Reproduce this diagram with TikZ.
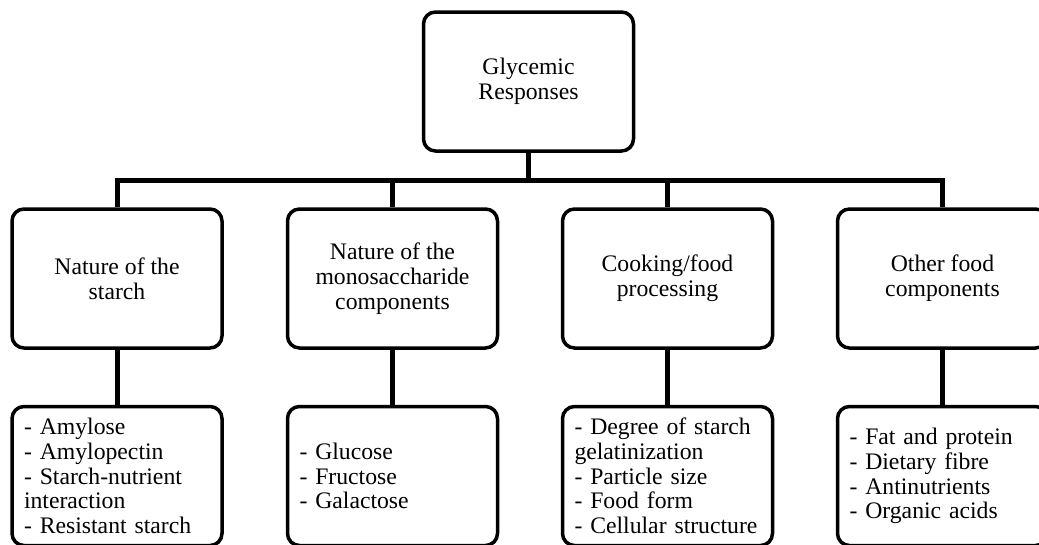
\documentclass[tikz,border=0pt]{standalone}
\usepackage{fontspec}
\setmainfont{Liberation Serif}
\tikzset{
	box/.style={draw, line width=3.5pt, rounded corners=12pt, minimum width=210pt,
		minimum height=139pt, font=\fontsize{23.7}{24.7}\selectfont},
	head/.style={box, align=center},
	list/.style={box, align=left, text width=186pt, inner xsep=12pt},
	wire/.style={line width=5pt}
}

\begin{document}
\begin{tikzpicture}[x=1pt, y=-1pt]
	\clip (0,0) rectangle (1039,544);
	\coordinate (bus) at (0,180);

	\node[head] (top) at (528.5,81.5) {Glycemic\\Responses};

	\node[head] (b1) at (117,278.5) {Nature of the\\starch};
	\node[head] (b2) at (392.5,278.5) {Nature of the\\monosaccharide\\components};
	\node[head] (b3) at (667.5,278.5) {Cooking/food\\processing};
	\node[head] (b4) at (942.5,278.5) {Other food\\components};

	\node[list] (l1) at (117,476) {- Amylose\\- Amylopectin\\- Starch-nutrient\\interaction\\- Resistant starch};
	\node[list] (l2) at (392.5,476) {- Glucose\\- Fructose\\- Galactose};
	\node[list] (l3) at (667.5,476) {- Degree of starch\\gelatinization\\- Particle size\\- Food form\\- Cellular structure};
	\node[list] (l4) at (942.5,476) {- Fat and protein\\- Dietary fibre\\- Antinutrients\\- Organic acids};

	\draw[wire] (top.south) -- (top.south |- bus);
	\draw[wire] (b1.north) -- (b1.north |- bus) -- (b4.north |- bus) -- (b4.north);
	\draw[wire] (b2.north) -- (b2.north |- bus);
	\draw[wire] (b3.north) -- (b3.north |- bus);
	\foreach \i in {1,...,4}
		\draw[wire] (b\i.south) -- (l\i.north);
\end{tikzpicture}
\end{document}
